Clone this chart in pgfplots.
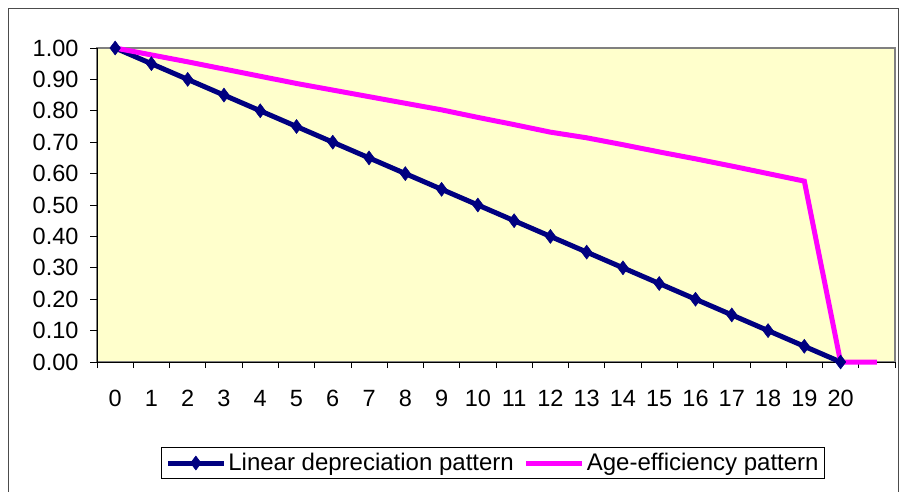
\documentclass[border=0pt]{standalone}
\usepackage{fontspec}
\setmainfont{Liberation Sans}
\usepackage{pgfplots}
\pgfplotsset{compat=1.18}
\definecolor{plotbg}{HTML}{FFFFCC}
\definecolor{navyline}{HTML}{000080}
\definecolor{mag}{HTML}{FF00FF}
\begin{document}
\begin{tikzpicture}[x=1pt,y=1pt]
\useasboundingbox (0,0) rectangle (901,491);
\draw[line width=1.5pt, color=black!70] (8.5,482.5) rectangle (898.5,-5);
\begin{axis}[
  at={(97pt,129pt)}, anchor=south west, scale only axis,
  width=798pt, height=314pt,
  xmin=-0.5, xmax=21.5, ymin=0, ymax=1,
  clip=false,
  axis lines*=left,
  axis line style={black, line width=1pt},
  axis background/.style={fill=plotbg, draw=gray, line width=1.2pt},
  tick align=outside,
  major tick length=7pt, minor tick length=6pt,
  tick style={black, line width=0.8pt},
  xtick={0,...,20},
  major x tick style={draw=none},
  minor xtick={-0.5,0.5,...,21.5},
  ytick={0,0.1,...,1.0},
  tick label style={font=\fontsize{23.5}{27}\selectfont},
  /pgf/number format/assume math mode=true,
  yticklabel style={/pgf/number format/fixed, /pgf/number format/fixed zerofill, /pgf/number format/precision=2, xshift=-8pt},
  xticklabel style={yshift=-18pt},
  legend columns=2,
  legend style={at={(0.4962,-0.3217)}, anchor=center, draw=black, line width=1pt,
    fill=white, font=\fontsize{24}{29}\selectfont,
    nodes={inner sep=2pt},
    inner xsep=4pt, inner ysep=4pt,
    /tikz/every even column/.append style={column sep=8pt}},
  legend image code/.code={\draw[mark repeat=2, mark phase=2, #1] plot coordinates {(0pt,0pt) (28pt,0pt) (56pt,0pt)};},
]
\addplot[color=navyline, line width=5pt, mark=diamond*, mark size=7pt, mark options={solid, line width=0.5pt, fill=navyline}]
coordinates {
(0,1.00)(1,0.95)(2,0.90)(3,0.85)(4,0.80)(5,0.75)(6,0.70)(7,0.65)(8,0.60)(9,0.55)(10,0.50)
(11,0.45)(12,0.40)(13,0.35)(14,0.30)(15,0.25)(16,0.20)(17,0.15)(18,0.10)(19,0.05)(20,0.00)
};
\addlegendentry{Linear depreciation pattern}
\addplot[color=mag, line width=5pt, mark=none]
coordinates {
(0,1.000)(1,0.978)(2,0.956)(3,0.933)(4,0.910)(5,0.887)(6,0.866)(7,0.845)(8,0.824)(9,0.803)
(10,0.779)(11,0.756)(12,0.732)(13,0.714)(14,0.692)(15,0.669)(16,0.647)(17,0.624)(18,0.600)
(19,0.576)(20,0.000)(21,0.000)
};
\addlegendentry{Age-efficiency pattern}
\end{axis}
\end{tikzpicture}
\end{document}
